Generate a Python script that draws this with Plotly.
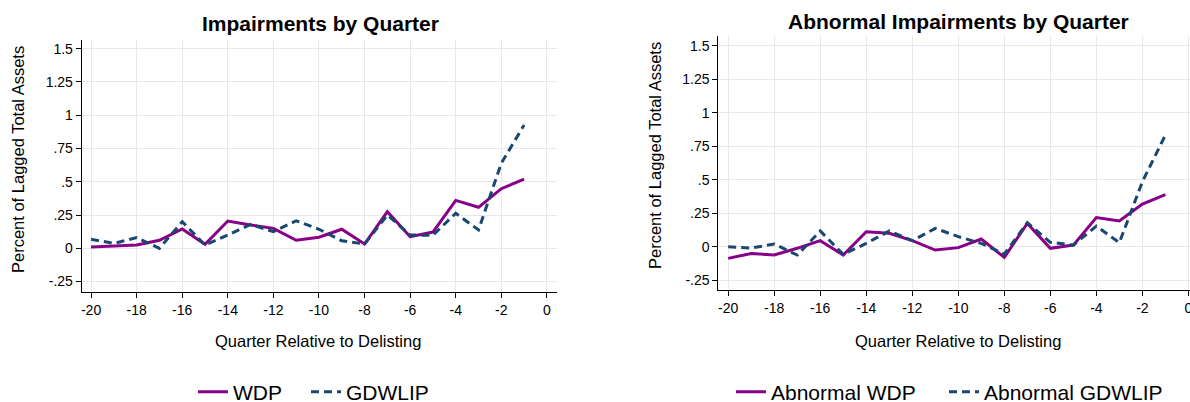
import plotly.graph_objects as go

quarters = list(range(-20, 0))

wdp = [0.01, 0.02, 0.025, 0.06, 0.145, 0.03, 0.205, 0.175, 0.15, 0.06,
       0.083, 0.143, 0.032, 0.275, 0.087, 0.122, 0.36, 0.308, 0.448, 0.52]
gdwlip = [0.068, 0.037, 0.08, 0.0, 0.2, 0.025, 0.1, 0.18, 0.125, 0.207,
          0.143, 0.057, 0.032, 0.25, 0.1, 0.098, 0.263, 0.138, 0.639, 0.926]

ab_wdp = [-0.087, -0.05, -0.062, -0.012, 0.045, -0.062, 0.112, 0.1, 0.045, -0.025,
          -0.007, 0.057, -0.08, 0.174, -0.012, 0.012, 0.217, 0.192, 0.318, 0.388]
ab_gdwlip = [0.0, -0.01, 0.02, -0.062, 0.117, -0.057, 0.025, 0.117, 0.045, 0.137,
             0.075, 0.025, -0.055, 0.179, 0.033, 0.012, 0.154, 0.03, 0.485, 0.833]

y_tickvals = [-0.25, 0, 0.25, 0.5, 0.75, 1, 1.25, 1.5]
y_ticktext = ["-.25", "0", ".25", ".5", ".75", "1", "1.25", "1.5"]
x_tickvals = list(range(-20, 1, 2))
x_ticktext = ["-20", "-18", "-16", "-14", "-12", "-10", "-8", "-6", "-4", "-2", "0"]

PURPLE = "#870087"
NAVY = "#1A476F"
FONT = "Liberation Sans, Arial, sans-serif"

fig = go.Figure()

fig.add_trace(go.Scatter(x=quarters, y=wdp, name="WDP", mode="lines",
                         line=dict(color=PURPLE, width=3), xaxis="x", yaxis="y",
                         legend="legend"))
fig.add_trace(go.Scatter(x=quarters, y=gdwlip, name="GDWLIP", mode="lines",
                         line=dict(color=NAVY, width=3, dash="8px,5px"), xaxis="x", yaxis="y",
                         legend="legend2"))
fig.add_trace(go.Scatter(x=quarters, y=ab_wdp, name="Abnormal WDP", mode="lines",
                         line=dict(color=PURPLE, width=3), xaxis="x2", yaxis="y2",
                         legend="legend3"))
fig.add_trace(go.Scatter(x=quarters, y=ab_gdwlip, name="Abnormal GDWLIP", mode="lines",
                         line=dict(color=NAVY, width=3, dash="8px,5px"), xaxis="x2", yaxis="y2",
                         legend="legend4"))

W, H = 1190, 402

def xaxis_cfg(domain, rng, anchor):
    return dict(domain=domain, range=rng, anchor=anchor, tickvals=x_tickvals,
                ticktext=x_ticktext, automargin=False, ticklabeloverflow="allow",
                ticks="outside", ticklen=5, tickcolor="black", tickwidth=1,
                showline=True, linecolor="black", linewidth=1, mirror=False,
                showgrid=True, gridcolor="#e8e8e8", gridwidth=1, zeroline=False,
                tickfont=dict(size=14, color="black", family=FONT))

def yaxis_cfg(domain, rng, anchor):
    return dict(domain=domain, range=rng, anchor=anchor, tickvals=y_tickvals,
                ticktext=y_ticktext, automargin=False,
                ticks="outside", ticklen=5, tickcolor="black",
                tickwidth=1, showline=True, linecolor="black", linewidth=1, mirror=False,
                showgrid=True, gridcolor="#e8e8e8", gridwidth=1, zeroline=False,
                tickfont=dict(size=14, color="black", family=FONT))

def legend_cfg(px):
    return dict(orientation="h", x=px / W, xanchor="left", y=1 - 392 / H, yanchor="middle",
                font=dict(size=21, color="black", family=FONT), bgcolor="rgba(0,0,0,0)")

fig.update_layout(
    width=W, height=H,
    margin=dict(l=0, r=0, t=0, b=0, autoexpand=False),
    paper_bgcolor="white", plot_bgcolor="white",
    font=dict(family=FONT, color="black"),
    xaxis=xaxis_cfg([81.7 / W, 556.7 / W], [-20.41, 0.43], "y"),
    yaxis=yaxis_cfg([1 - 291.7 / H, 1 - 40 / H], [-0.326, 1.565], "x"),
    xaxis2=xaxis_cfg([718.3 / W, 1.0], [-20.43, 0.07], "y2"),
    yaxis2=yaxis_cfg([1 - 290 / H, 1 - 36 / H], [-0.323, 1.572], "x2"),
    legend=legend_cfg(193),
    legend2=legend_cfg(306),
    legend3=legend_cfg(731),
    legend4=legend_cfg(944),
    showlegend=True,
)

annotations = [
    dict(text="<b>Impairments by Quarter</b>", x=320 / W, y=1 - 24 / H, font=dict(size=21)),
    dict(text="<b>Abnormal Impairments by Quarter</b>", x=958 / W, y=1 - 22 / H, font=dict(size=21)),
    dict(text="Quarter Relative to Delisting", x=318 / W, y=1 - 341 / H, font=dict(size=16.5)),
    dict(text="Quarter Relative to Delisting", x=958 / W, y=1 - 341 / H, font=dict(size=16.5)),
    dict(text="Percent of Lagged Total Assets", x=18 / W, y=1 - 160 / H, textangle=-90, font=dict(size=16.5)),
    dict(text="Percent of Lagged Total Assets", x=655 / W, y=1 - 156 / H, textangle=-90, font=dict(size=16.5)),
]
for a in annotations:
    a.update(xref="paper", yref="paper", showarrow=False, xanchor="center", yanchor="middle")
    a["font"].update(color="black", family=FONT)
fig.update_layout(annotations=annotations)

fig.write_html("out.html")
